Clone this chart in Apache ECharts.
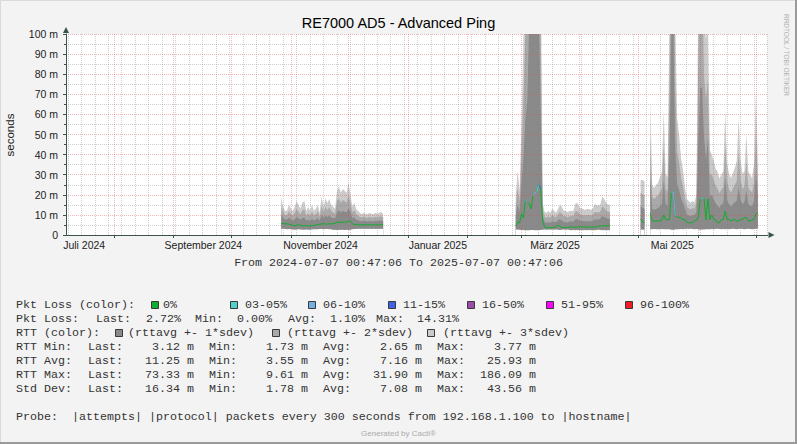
<!DOCTYPE html>
<html><head><meta charset="utf-8">
<script src="https://cdn.jsdelivr.net/npm/echarts@6/dist/echarts.min.js"></script>
<style>html,body{margin:0;padding:0;background:#f3f3f3;}#c{width:797px;height:444px;}</style>
</head><body><div id="c"></div>
<script>
// ---------------- data ----------------
const graphStart = [2024, 7, 7, 0, 47, 6];
const graphEnd = [2025, 7, 7, 0, 47, 6];
const yTickValues = [0, 10, 20, 30, 40, 50, 60, 70, 80, 90, 100];
const xLabelNames = ['Juli 2024', 'September 2024', 'November 2024', 'Januar 2025', 'März 2025', 'Mai 2025'];
const xLabelDates = ['2024-07-16', '2024-09-16', '2024-11-16', '2025-01-16', '2025-03-18', '2025-05-18'];

// segment start dates (one value per day after each start)
const segStarts = ['2024-10-27', '2025-02-26', '2025-05-02', '2025-05-07'];

const rttAvg1 = [5.7,5.7,5.6,5.5,5.4,5.2,4.8,4.5,4.9,5.0, 4.9,4.6,4.6,4.7,4.5,4.5,4.6,4.8,5.0,5.2, 5.3,5.5,5.6,5.5,5.4,5.6,5.5,5.6,5.8,6.3, 6.4,6.3,6.4,6.4,6.5,6.9,7.0,5.6,5.2,5.1, 5.1,5.0,5.1,5.1,5.0,5.1,5.1,5.0,5.1,5.1, 5.0,5.1,5.1,5.1];
const stdDev1 = [4.4,2.8,2.1,2.2,3.2,2.6,2.4,3.2,4.0,3.3, 2.7,3.8,4.1,2.4,3.2,2.5,3.5,2.4,2.7,3.3, 1.9,4.5,2.8,4.2,3.5,4.1,3.2,2.8,2.4,5.2, 5.9,4.9,5.5,5.2,4.8,6.4,4.3,2.8,3.6,2.6, 2.3,2.0,1.8,2.0,1.8,1.8,2.0,1.8,1.8,2.0, 1.8,2.0,2.1,1.8];
const rttMin1 = [3.0,3.1,3.0,2.9,3.0,2.8,2.7,2.6,2.7,2.8, 2.7,2.6,2.6,2.7,2.6,2.6,2.7,2.8,2.8,2.9, 3.0,3.0,2.9,3.0,3.0,2.9,2.8,2.5,2.6,2.5, 2.6,2.5,2.6,2.5,2.6,2.5,2.6,2.9,3.0,3.0, 3.1,3.0,3.1,3.0,3.1,3.0,3.1,3.0,3.1,3.0, 3.1,3.0,3.1,3.0];

const rttAvg2 = [4.4,6.5,6.0,10.5,8.5,17,16.5,15.5,13,19.5, 21,21.5,25,23,7,4.0,3.6,3.6,3.6,3.7, 3.8,4.2,4.8,4.2,3.8,3.7,3.6,3.6,4.1,4.0, 3.9,3.9,4.0,4.1,4.0,4.0,4.1,3.9,3.9,3.9, 3.9,3.9,4.1,4.2,4.6,4.6,4.5,4.6,4.6,4.6];
const stdDev2 = [5.2,8.5,5.3,15,30,40,50,90,90,90, 100,95,85,40,3.0,2.5,2.5,2.8,2.5,3.1, 2.7,2.3,2.7,3.6,3.4,2.8,2.8,2.6,2.6,2.7, 2.7,3.9,4.0,3.3,3.0,3.0,2.8,3.0,3.0,2.9, 3.0,3.8,3.6,3.5,3.5,4.8,4.5,3.8,3.5,3.5];
const rttMin2 = [2.7,2.6,2.6,2.5,2.5,2.4,2.4,2.4,2.5,2.5, 2.4,2.4,2.5,2.5,2.6,2.7,2.6,2.7,2.6,2.7, 2.6,2.7,2.6,2.5,2.6,2.7,2.6,2.7,2.5,2.4, 2.5,2.4,2.5,2.4,2.5,2.4,2.5,2.4,2.5,2.4, 2.5,2.4,2.5,2.6,2.5,2.4,2.5,2.4,2.5,2.4];

const rttAvg3 = [8.0, 6.4, 6.2];
const stdDev3 = [6.5, 7.0, 6.8];
const rttMin3 = [2.7, 2.6, 2.7];

const rttAvg4 = [10.7,7.0,6.9,6.9,7.0,7.0,7.3,10,7.7,7.6, 7.8,21,21.5,9.5,8.8,8.8,8.5,7.7,7.7,6.3, 6.1,6.1,6.2,7.0,7.2,9.0,18,18.5,18.2,7.5, 18,7.7,10,7.8,7.5,6.1,6.2,7.6,7.8,11.9, 7.8,7.8,7.0,7.5,7.7,7.0,7.0,7.6,7.8,8.8, 8.6,7.0,7.0,7.5,7.8,10.5,11];
const stdDev4 = [19.1,6.0,5.5,6.0,6.3,7.2,8.0,17.3,7.6,7.0, 33,80,80,33,16.4,13.7,10.0,8.3,5.5,3.9, 3.6,3.3,3.6,3.0,4.3,37,55,55,30,30, 30,11.5,10.0,9.8,8.5,8.5,7.3,7.5,8.0,16.7, 9.3,7.5,7.1,7.8,8.6,10,17,9.9,7.5,7.7, 13.8,8.3,7.6,6.9,9.3,20.5,7.6];
const rttMin4 = [2.8,2.9,3.0,2.9,2.8,2.9,3.0,2.9,2.8,2.9, 2.8,2.6,2.6,2.7,2.8,2.9,3.0,2.9,3.0,3.1, 3.0,3.1,3.0,2.9,3.0,2.8,2.6,2.7,2.7,2.9, 2.8,2.9,3.0,2.9,3.0,3.1,3.0,2.9,3.0,2.9, 3.0,2.9,3.0,3.1,3.0,2.9,3.0,3.1,3.0,2.9, 3.0,3.1,3.0,2.9,3.0,3.1,3.1];

// packet loss (days with loss; all other days 0 %)
const pktLossDates = ['2025-03-03','2025-03-07','2025-03-08','2025-03-09','2025-03-10','2025-05-18','2025-05-19','2025-06-02','2025-06-03'];
const pktLossPct = [7, 7, 8, 4, 12, 8, 8, 7, 7];

const lossLabels = ['0%', '03-05%', '06-10%', '11-15%', '16-50%', '51-95%', '96-100%'];
const lossLower = [0, 3, 6, 11, 16, 51, 96];
const lossColors = ['#0fae2c', '#4fd2c9', '#74afe4', '#3e63e6', '#9b4ca8', '#ff00ff', '#ee1d25'];
const bandLabels = ['(rttavg +- 1*sdev)', '(rttavg +- 2*sdev)', '(rttavg +- 3*sdev)'];
const bandColors = ['#8a8a8a', '#a9a9a9', '#cbcbcb'];

const lossStatNames = ['Last:', 'Min:', 'Avg:', 'Max:'];
const lossStatValues = ['2.72%', '0.00%', '1.10%', '14.31%'];
const statRowNames = ['RTT Min:', 'RTT Avg:', 'RTT Max:', 'Std Dev:'];
const statLast = [3.12, 11.25, 73.33, 16.34];
const statMin = [1.73, 3.55, 9.61, 1.78];
const statAvg = [2.65, 7.16, 31.90, 7.08];
const statMax = [3.77, 25.93, 186.09, 43.56];

// ---------------- build ----------------
const DAY = 86400000;
const tsOf = d => { const [y, m, dd] = d.split('-').map(Number); return Date.UTC(y, m - 1, dd, 0, 47, 6); };
const startTs = Date.UTC(graphStart[0], graphStart[1] - 1, graphStart[2], graphStart[3], graphStart[4], graphStart[5]);
const endTs = Date.UTC(graphEnd[0], graphEnd[1] - 1, graphEnd[2], graphEnd[3], graphEnd[4], graphEnd[5]);

const segs = [
  { avg: rttAvg1, sd: stdDev1, min: rttMin1 },
  { avg: rttAvg2, sd: stdDev2, min: rttMin2 },
  { avg: rttAvg3, sd: stdDev3, min: rttMin3 },
  { avg: rttAvg4, sd: stdDev4, min: rttMin4 }
];
const lossByTs = {};
pktLossDates.forEach((d, i) => { lossByTs[tsOf(d)] = pktLossPct[i]; });
const lossClass = p => { let c = 0; lossLower.forEach((lb, i) => { if (p >= lb) c = i; }); return c; };

const pts = [];
segs.forEach((s, si) => {
  const t0 = tsOf(segStarts[si]);
  if (si > 0) pts.push({ t: t0 - DAY / 2, gap: true });
  s.avg.forEach((a, i) => {
    const t = t0 + i * DAY;
    pts.push({ t, avg: a, sd: s.sd[i], min: s.min[i], cls: lossClass(lossByTs[t] || 0) });
  });
});

const bandTop = k => pts.map(p => [p.t, p.gap ? null : +(p.avg + k * p.sd).toFixed(3)]);
const minData = pts.map(p => [p.t, p.gap ? null : p.min]);
const avgData = pts.map(p => [p.t, p.gap ? null : p.avg]);

const monthStarts = [];
for (let i = 0; i < 12; i++) monthStarts.push(Date.UTC(2024, 7 + i, 1));
const weekStarts = [];
for (let t = Date.UTC(2024, 6, 8); t < endTs; t += 7 * DAY) weekStarts.push(t);
const labelTs = xLabelDates.map(d => { const [y, m, dd] = d.split('-').map(Number); return Date.UTC(y, m - 1, dd, 12); });
const labelName = v => { let best = 0; labelTs.forEach((t, i) => { if (Math.abs(t - v) < Math.abs(labelTs[best] - v)) best = i; }); return xLabelNames[best]; };

const axisColor = '#3b524d';
const redGrid = 'rgba(222,80,80,0.42)';
const grayGrid = 'rgba(130,130,130,0.38)';

const areaSeries = (name, data, color) => ({ name, type: 'line', data, symbol: 'none', lineStyle: { width: 0, opacity: 0 }, areaStyle: { color, opacity: 1, origin: 'start' }, z: 2, silent: true, connectNulls: false });
const gridSeries = (name, values, color, z) => ({
  name, type: 'line', data: [[startTs, null]], symbol: 'none', z, silent: true, color,
  markLine: { silent: true, symbol: ['none', 'none'], label: { show: false }, animation: false,
    lineStyle: { color, type: 'dotted', width: 1 },
    emphasis: { disabled: true },
    data: values.map(t => ({ xAxis: t })) }
});

const series = [
  areaSeries('sd3', bandTop(3), bandColors[2]),
  areaSeries('sd2', bandTop(2), bandColors[1]),
  areaSeries('sd1', bandTop(1), bandColors[0]),
  areaSeries('min', minData, '#ffffff'),
  gridSeries('weeks', weekStarts, grayGrid, 3),
  gridSeries('months', monthStarts, redGrid, 3.5),
  { name: 'avg', type: 'line', data: avgData, symbol: 'none', lineStyle: { width: 1, color: lossColors[0] }, z: 5, silent: true }
];
for (let c = 1; c < lossColors.length; c++) {
  const d = pts.map((p, j) => {
    const prev = j > 0 ? pts[j - 1] : null;
    const on = !p.gap && (p.cls === c || (prev && !prev.gap && prev.cls === c));
    return [p.t, on ? p.avg : null];
  });
  if (d.some(x => x[1] !== null)) {
    series.push({ name: 'loss' + c, type: 'line', data: d, symbol: 'none', lineStyle: { width: 1, color: lossColors[c] }, z: 6, silent: true });
  }
}

// ---------------- legend / texts ----------------
const MONO = '11.67px "Liberation Mono"';
const txt = (x, y, text, align) => ({ type: 'text', x, y, silent: true, style: { text, font: MONO, fill: '#333', align: align || 'left', textAlign: align || 'left', verticalAlign: 'middle', textVerticalAlign: 'middle' } });
const box = (x, y, color) => ({ type: 'rect', silent: true, shape: { x: x + 0.5, y: y - 3.5, width: 7, height: 7 }, style: { fill: color, stroke: '#3a3a3a', lineWidth: 1 } });

const g = [];
g.push(txt(16, 305, 'Pkt Loss (color):'));
const lossBoxX = [151, 230, 308, 388, 467, 546, 625];
const lossTextX = [163, 245, 323, 403, 482, 561, 640];
lossLabels.forEach((l, i) => { g.push(box(lossBoxX[i], 305, lossColors[i])); g.push(txt(lossTextX[i], 305, l)); });
g.push(txt(16, 319, 'Pkt Loss:'));
const lossStatNameX = [96, 195, 288, 376];
const lossStatValX = [146, 237, 330, 417];
lossStatNames.forEach((n, i) => { g.push(txt(lossStatNameX[i], 319, n)); g.push(txt(lossStatValX[i], 319, lossStatValues[i])); });
g.push(txt(16, 333, 'RTT (color):'));
const bandBoxX = [115, 272, 427];
const bandTextX = [128, 287, 443];
bandLabels.forEach((l, i) => { g.push(box(bandBoxX[i], 333, bandColors[i])); g.push(txt(bandTextX[i], 333, l)); });
statRowNames.forEach((n, r) => {
  const y = 347 + r * 14;
  g.push(txt(16, y, n));
  g.push(txt(88, y, 'Last:')); g.push(txt(194, y, statLast[r].toFixed(2) + ' m', 'right'));
  g.push(txt(209, y, 'Min:'));  g.push(txt(308, y, statMin[r].toFixed(2) + ' m', 'right'));
  g.push(txt(323, y, 'Avg:'));  g.push(txt(422, y, statAvg[r].toFixed(2) + ' m', 'right'));
  g.push(txt(437, y, 'Max:'));  g.push(txt(536, y, statMax[r].toFixed(2) + ' m', 'right'));
});
g.push(txt(16, 417, 'Probe:  |attempts| |protocol| packets every 300 seconds from 192.168.1.100 to |hostname|'));
g.push(txt(398.5, 263, 'From 2024-07-07 00:47:06 To 2025-07-07 00:47:06', 'center'));
g.push({ type: 'text', x: 398.5, y: 22.5, silent: true, style: { text: 'RE7000 AD5 - Advanced Ping', font: '14.5px "Liberation Sans"', fill: '#000', align: 'center', textAlign: 'center', verticalAlign: 'middle', textVerticalAlign: 'middle' } });
g.push({ type: 'text', x: 10, y: 135, rotation: Math.PI / 2, silent: true, style: { text: 'seconds', font: '11.5px "Liberation Sans"', fill: '#222', align: 'center', textAlign: 'center', verticalAlign: 'middle', textVerticalAlign: 'middle' } });
g.push({ type: 'text', x: 786, y: 55, rotation: -Math.PI / 2, silent: true, style: { text: 'RRDTOOL / TOBI OETIKER', font: '6.5px "Liberation Sans"', fill: '#b2b2b2', align: 'center', textAlign: 'center', verticalAlign: 'middle', textVerticalAlign: 'middle' } });
g.push({ type: 'text', x: 398.5, y: 433, silent: true, style: { text: 'Generated by Cacti®', font: '8px "Liberation Sans"', fill: '#ababab', align: 'center', textAlign: 'center', verticalAlign: 'middle', textVerticalAlign: 'middle' } });
g.push({ type: 'polyline', silent: true, shape: { points: [[0.5, 443], [0.5, 0.5], [796, 0.5]] }, style: { stroke: '#dadada', lineWidth: 1, fill: null } });
g.push({ type: 'polyline', silent: true, shape: { points: [[796, 0], [796, 443], [0, 443]] }, style: { stroke: '#9a9a9a', lineWidth: 2, fill: null } });

const option = {
  animation: false,
  backgroundColor: '#f3f3f3',
  textStyle: { fontFamily: 'Liberation Sans' },
  grid: { left: 66, right: 29.5, top: 34, height: 201, show: true, backgroundColor: '#ffffff', borderWidth: 0, containLabel: false, outerBoundsMode: 'none' },
  xAxis: {
    type: 'value', min: startTs, max: endTs, z: 4,
    axisLine: { show: true, onZero: false, lineStyle: { color: axisColor, width: 1 }, symbol: ['none', 'triangle'], symbolSize: [6, 6], symbolOffset: [0, 4] },
    axisTick: { show: true, customValues: monthStarts, length: 3, lineStyle: { color: axisColor } },
    axisLabel: { show: true, customValues: labelTs, formatter: v => labelName(v), margin: 4, fontSize: 10.5, color: '#222', fontFamily: 'Liberation Sans', hideOverlap: false },
    splitLine: { show: false }
  },
  yAxis: {
    type: 'value', min: 0, max: 100, interval: 10, z: 4,
    axisLine: { show: true, lineStyle: { color: axisColor, width: 1 }, symbol: ['none', 'triangle'], symbolSize: [6, 6], symbolOffset: [0, 4] },
    axisTick: { show: true, length: 3, lineStyle: { color: axisColor } },
    minorTick: { show: true, splitNumber: 2, length: 2, lineStyle: { color: axisColor } },
    axisLabel: { formatter: v => (yTickValues.indexOf(v) >= 0 ? (v === 0 ? '0' : v + ' m') : ''), margin: 8, fontSize: 10.5, color: '#222', fontFamily: 'Liberation Sans' },
    splitLine: { show: true, lineStyle: { color: redGrid, type: 'dotted', width: 1 } },
    minorSplitLine: { show: true, lineStyle: { color: grayGrid, type: 'dotted', width: 1 } }
  },
  series,
  graphic: { elements: g }
};
const chart = echarts.init(document.getElementById('c'), null, { renderer: 'svg', width: 797, height: 444 });
chart.setOption(option);
</script>
</body></html>
